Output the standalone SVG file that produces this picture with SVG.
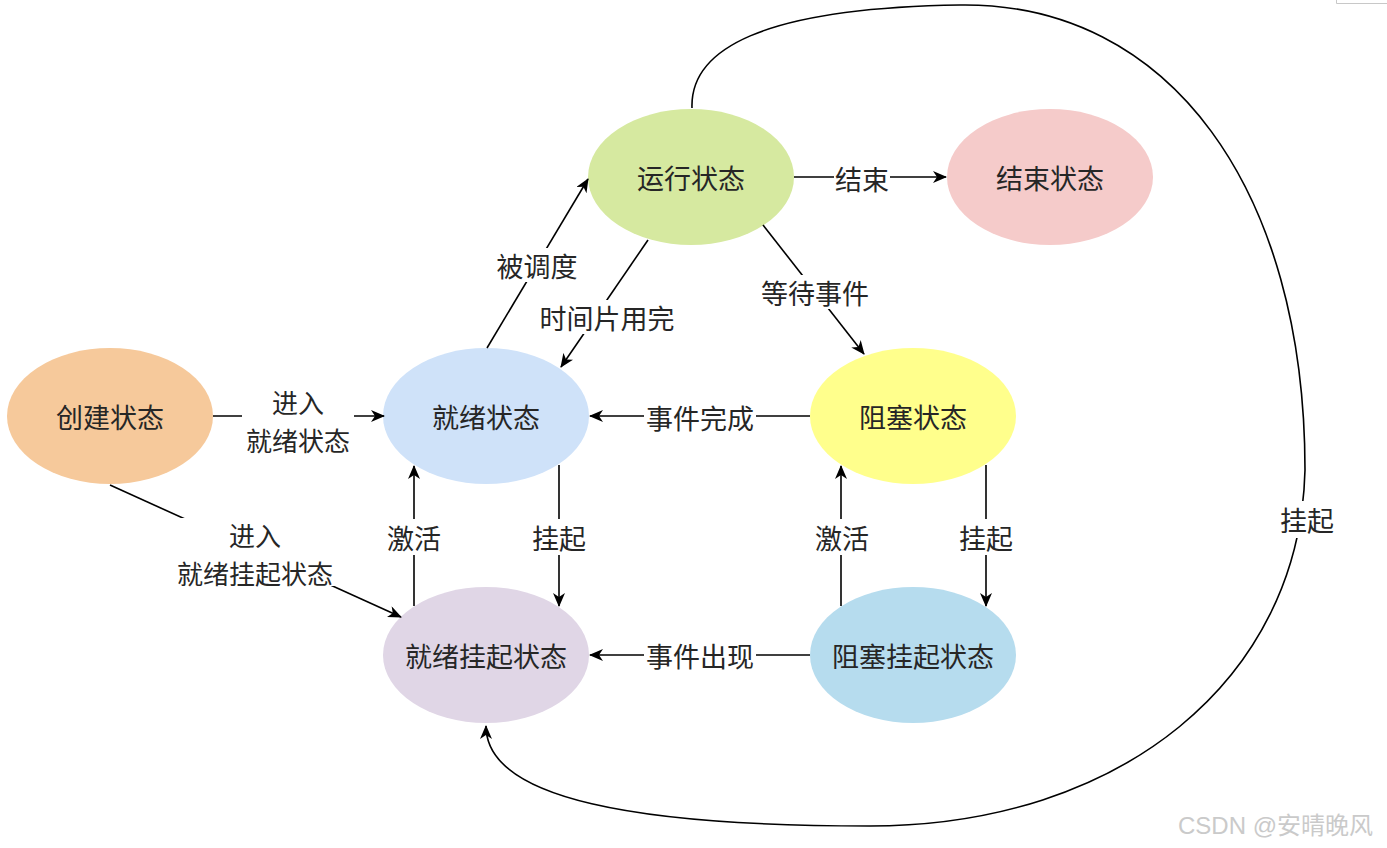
<svg xmlns="http://www.w3.org/2000/svg" width="1387" height="848" viewBox="0 0 1387 848">
  <style>
    .node text, .lbl text { font-family: "Noto Sans CJK SC", "Noto Sans", sans-serif; font-size: 27px; fill: #262626; text-anchor: middle; dominant-baseline: central; }
    .lbl text.ml { font-size: 26px; }
    .edge { fill: none; stroke: #000; stroke-width: 1.6; }
    .arrow { marker-end: url(#ah); }
    .bg { fill: #fff; }
    .wm { font-family: "Liberation Sans", "Noto Sans CJK SC", sans-serif; font-size: 24px; fill: #cacaca; }
  </style>
  <defs>
    <marker id="ah" viewBox="0 0 14 12" refX="13" refY="6" markerWidth="14" markerHeight="12" markerUnits="userSpaceOnUse" orient="auto">
      <path d="M0,0 L14,6 L0,12 L4,6 Z" fill="#000"/>
    </marker>
  </defs>
  <rect width="1387" height="848" fill="#fff"/>
  <path d="M1336.5,0 V3.5 H1387" fill="none" stroke="#c8c8c8" stroke-width="1"/>

  <g id="nodes">
    <g id="create" class="node"><ellipse cx="110" cy="416" rx="103" ry="68" fill="#f6c99b"/><text x="110" y="416">创建状态</text></g>
    <g id="ready" class="node"><ellipse cx="486" cy="416" rx="103" ry="68" fill="#cfe2f9"/><text x="486" y="416">就绪状态</text></g>
    <g id="running" class="node"><ellipse cx="691" cy="177" rx="103" ry="68" fill="#d6e9a0"/><text x="691" y="177">运行状态</text></g>
    <g id="end" class="node"><ellipse cx="1050" cy="177" rx="103" ry="68" fill="#f5cbca"/><text x="1050" y="177">结束状态</text></g>
    <g id="blocked" class="node"><ellipse cx="913" cy="416" rx="103" ry="68" fill="#ffff8c"/><text x="913" y="416">阻塞状态</text></g>
    <g id="ready-suspend" class="node"><ellipse cx="486" cy="655" rx="103" ry="68" fill="#e0d6e6"/><text x="486" y="655">就绪挂起状态</text></g>
    <g id="blocked-suspend" class="node"><ellipse cx="913" cy="655" rx="103" ry="68" fill="#b6dcee"/><text x="913" y="655">阻塞挂起状态</text></g>
  </g>

  <g id="connectors">
    <path class="edge arrow" d="M213,416 H384"/>
    <path class="edge arrow" d="M110,485 L401,617"/>
    <path class="edge arrow" d="M487,348 L588,179"/>
    <path class="edge arrow" d="M648,240 L561,367"/>
    <path class="edge arrow" d="M794,177 H946"/>
    <path class="edge arrow" d="M763,225 L864,354"/>
    <path class="edge arrow" d="M810,416 H590"/>
    <path class="edge arrow" d="M810,655 H590"/>
    <path class="edge arrow" d="M841,606 V466"/>
    <path class="edge arrow" d="M986,465 V606"/>
    <path class="edge arrow" d="M414,606 V466"/>
    <path class="edge arrow" d="M559,465 V606"/>
    <path class="edge arrow" d="M692,108 C690,50 760,8 960,5 C1170,2 1305,190 1305,470 C1300,680 1120,826 870,826 C640,826 486,800 486,726"/>

    <g class="lbl">
      <rect class="bg" x="242" y="385" width="112" height="70"/>
      <text class="ml" x="298" y="401"><tspan x="298" y="401">进入</tspan><tspan x="298" y="439">就绪状态</tspan></text>
      <rect class="bg" x="171" y="518" width="168" height="68"/>
      <text class="ml" x="255" y="534"><tspan x="255" y="534">进入</tspan><tspan x="255" y="572">就绪挂起状态</tspan></text>
      <rect class="bg" x="495" y="248" width="84" height="34"/><text x="537" y="265">被调度</text>
      <rect class="bg" x="537" y="300" width="140" height="34"/><text x="607" y="317">时间片用完</text>
      <rect class="bg" x="834" y="161" width="56" height="34"/><text x="862" y="178">结束</text>
      <rect class="bg" x="759" y="275" width="112" height="34"/><text x="815" y="292">等待事件</text>
      <rect class="bg" x="644" y="400" width="112" height="34"/><text x="700" y="417">事件完成</text>
      <rect class="bg" x="644" y="638" width="112" height="34"/><text x="700" y="655">事件出现</text>
      <rect class="bg" x="814" y="519" width="56" height="36"/><text x="842" y="537">激活</text>
      <rect class="bg" x="958" y="519" width="56" height="36"/><text x="986" y="537">挂起</text>
      <rect class="bg" x="386" y="519" width="56" height="36"/><text x="414" y="537">激活</text>
      <rect class="bg" x="531" y="519" width="56" height="36"/><text x="559" y="537">挂起</text>
      <rect class="bg" x="1279" y="501" width="56" height="37"/><text x="1307" y="519">挂起</text>
    </g>
  </g>

  <text class="wm" x="1178" y="834">CSDN @安晴晚风</text>
</svg>
